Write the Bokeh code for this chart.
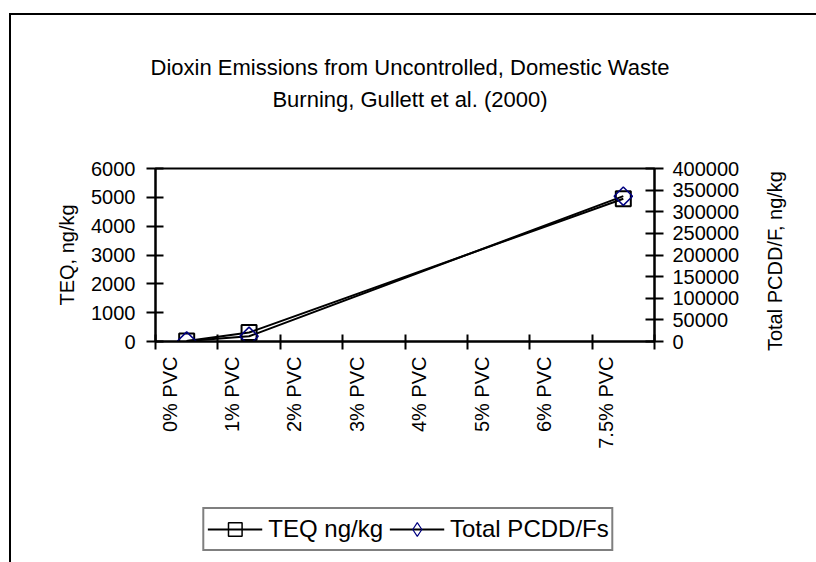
import math
from bokeh.plotting import figure
from bokeh.layouts import column, row
from bokeh.models import (Range1d, LinearAxis, FixedTicker, Legend, LegendItem, Div,
                          BasicTickFormatter, InlineStyleSheet)
from bokeh.embed import file_html
from bokeh.resources import INLINE

# ---------------- data ----------------
categories = ["0% PVC", "1% PVC", "2% PVC", "3% PVC", "4% PVC", "5% PVC", "6% PVC", "7.5% PVC"]
measured = ["0% PVC", "1% PVC", "7.5% PVC"]
teq_ng_kg = [14, 310, 4950]
total_pcdd_f = [1000, 12000, 336000]
left_ticks = [0, 1000, 2000, 3000, 4000, 5000, 6000]
right_ticks = [0, 50000, 100000, 150000, 200000, 250000, 300000, 350000, 400000]
title_lines = ["Dioxin Emissions from Uncontrolled, Domestic Waste",
               "Burning, Gullett et al. (2000)"]
series_names = ["TEQ ng/kg", "Total PCDD/Fs"]
left_title = "TEQ, ng/kg"
right_title = "Total PCDD/F, ng/kg"

FONT = "Liberation Sans"

# ---------------- layout (page px) ----------------
W = 816
TITLE_H = 150                 # title block height
MAIN_H = 346                  # main figure height
LEG_H = 562 - TITLE_H - MAIN_H
MAIN_W = 760                  # main figure width; right-axis title sits beside it
RT_W = 30
FL, FR, FT, FB = 155, 654, 168, 341   # plot area on the page
LMAX, RMAX = left_ticks[-1], right_ticks[-1]
NX = len(categories)
PX_PER_CAT = (FR - FL) / NX

# ---------------- title ----------------
title = Div(text=(f'<div style="font-family:\'{FONT}\';font-size:22px;line-height:32px;'
                  f'color:black;text-align:center;padding-top:52px;padding-left:4px;width:{W}px;'
                  f'box-sizing:border-box;">' + "<br>".join(title_lines) + "</div>"),
            width=W, height=TITLE_H, margin=(0, 0, 0, 0))

# ---------------- main plot ----------------
p = figure(width=MAIN_W, height=MAIN_H, output_backend="svg", toolbar_location=None, title=None,
           x_range=Range1d(0, NX), y_range=Range1d(0, LMAX),
           x_axis_location=None, y_axis_location=None,
           min_border_left=FL, min_border_right=MAIN_W - FR,
           min_border_top=FT - TITLE_H, min_border_bottom=TITLE_H + MAIN_H - FB)
p.extra_y_ranges = {"right": Range1d(0, RMAX)}
p.xgrid.visible = False
p.ygrid.visible = False
p.outline_line_color = "black"
p.outline_line_width = 2
p.background_fill_color = "white"
p.border_fill_color = "white"

# bottom axis: ticks at category boundaries
xa = LinearAxis(ticker=FixedTicker(ticks=list(range(NX + 1))),
                major_label_overrides={i: "" for i in range(NX + 1)})
xa.axis_line_width = 2
xa.major_tick_line_width = 2
xa.major_tick_in = 7
xa.major_tick_out = 8
xa.minor_tick_line_color = None
xa.major_label_standoff = 0
p.add_layout(xa, "below")

# category labels (no line / ticks); they sit a little left of each category centre
shift = 17 / PX_PER_CAT
label_pos = [i + 0.5 - shift for i in range(NX)]
xl = LinearAxis(ticker=FixedTicker(ticks=label_pos),
                major_label_overrides=dict(zip(label_pos, categories)))
xl.axis_line_color = None
xl.major_tick_line_color = None
xl.minor_tick_line_color = None
xl.major_tick_in = 0
xl.major_tick_out = 0
xl.major_label_standoff = 7
xl.major_label_orientation = math.pi / 2
xl.major_label_text_font = FONT
xl.major_label_text_font_size = "20px"
xl.major_label_text_color = "black"
p.add_layout(xl, "below")

ya = LinearAxis(ticker=FixedTicker(ticks=left_ticks), axis_label=left_title,
                formatter=BasicTickFormatter(use_scientific=False))
ya.axis_line_width = 2
ya.major_tick_line_width = 2
ya.major_tick_in = 8
ya.major_tick_out = 9
ya.minor_tick_line_color = None
ya.major_label_text_font = FONT
ya.major_label_text_font_size = "20px"
ya.major_label_text_color = "black"
ya.major_label_standoff = 11
ya.axis_label_text_font = FONT
ya.axis_label_text_font_size = "20px"
ya.axis_label_text_font_style = "normal"
ya.axis_label_text_color = "black"
ya.axis_label_standoff = 10
p.add_layout(ya, "left")

yr = LinearAxis(ticker=FixedTicker(ticks=right_ticks), y_range_name="right",
                formatter=BasicTickFormatter(use_scientific=False))
yr.axis_line_width = 2
yr.major_tick_line_width = 2
yr.major_tick_in = 9
yr.major_tick_out = 9
yr.minor_tick_line_color = None
yr.major_label_text_font = FONT
yr.major_label_text_font_size = "20px"
yr.major_label_text_color = "black"
yr.major_label_standoff = 9
p.add_layout(yr, "right")

xs = [categories.index(c) + 0.5 for c in measured]
p.line(xs, teq_ng_kg, line_color="black", line_width=2)
p.scatter(xs, teq_ng_kg, marker="square", size=15, line_color="black",
          line_width=2, fill_color=None)
p.line(xs, total_pcdd_f, line_color="black", line_width=2, y_range_name="right")
p.scatter(xs, total_pcdd_f, marker="square", angle=math.pi / 4, size=13,
          line_color="#000080", line_width=1.5, fill_color=None, y_range_name="right")

# right-axis title, reading bottom to top, beside the main figure
rt_top = 263 - 92 - TITLE_H
right_div = Div(text=(f'<div style="width:{RT_W}px;height:{MAIN_H}px;display:flex;'
                      f'flex-direction:column;align-items:center;padding-top:{rt_top}px;'
                      f'box-sizing:border-box;">'
                      f'<span style="writing-mode:vertical-rl;transform:rotate(180deg);'
                      f'font-family:\'{FONT}\';font-size:20px;color:black;white-space:nowrap;">'
                      f'{right_title}</span></div>'),
                width=RT_W, height=MAIN_H, margin=(0, 0, 0, 0))

# ---------------- legend strip ----------------
# the same series drawn again in a strip whose x-range lies outside the data, so only
# the legend (which refers to these renderers) is visible
q = figure(width=W, height=LEG_H, output_backend="svg", toolbar_location=None, title=None,
           x_range=Range1d(100, 101), y_range=Range1d(0, LMAX),
           x_axis_location=None, y_axis_location=None,
           min_border_left=0, min_border_right=0, min_border_top=0, min_border_bottom=0)
q.xgrid.visible = False
q.ygrid.visible = False
q.outline_line_color = None
q.background_fill_color = "white"
q.border_fill_color = "white"
ql1 = q.line(xs, teq_ng_kg, line_color="black", line_width=2)
qs1 = q.scatter(xs, teq_ng_kg, marker="square", size=15, line_color="black",
                line_width=1.5, fill_color=None)
ql2 = q.line(xs, total_pcdd_f, line_color="black", line_width=2)
qs2 = q.scatter(xs, total_pcdd_f, marker="diamond", size=15, line_color="#000080",
                line_width=1.2, fill_color=None)

legend = Legend(items=[LegendItem(label=series_names[0], renderers=[ql1, qs1]),
                       LegendItem(label=series_names[1], renderers=[ql2, qs2])],
                orientation="horizontal", location="center")
legend.label_text_font = FONT
legend.label_text_font_size = "24px"
legend.label_text_color = "black"
legend.border_line_color = "black"
legend.border_line_width = 2
legend.background_fill_color = "white"
legend.padding = 3
legend.spacing = 6
legend.glyph_width = 55
legend.glyph_height = 34
legend.label_standoff = 6
legend.margin = 0
q.add_layout(legend)

layout = column(title, row(p, right_div, spacing=0), q, spacing=0)
# outer chart border (left and top edges visible; the rest runs off the page)
layout.stylesheets = [InlineStyleSheet(css=(
    ":host::after { content: ''; position: absolute; left: 9px; top: 13px; right: 0; bottom: 0;"
    " border-left: 2px solid black; border-top: 2px solid black; pointer-events: none; }"))]

open("out.html", "w").write(file_html(layout, INLINE))
